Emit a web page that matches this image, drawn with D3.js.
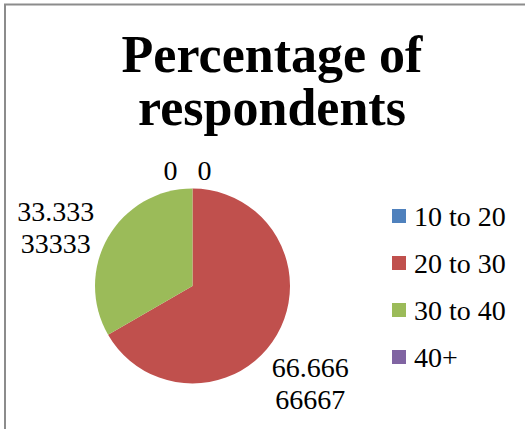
<!DOCTYPE html>
<html>
<head>
<meta charset="utf-8">
<script src="https://cdn.jsdelivr.net/npm/d3@7"></script>
<style>
  html, body { margin: 0; padding: 0; background: #fff; }
  svg { display: block; }
</style>
</head>
<body>
<svg id="chart" width="525" height="429"></svg>
<script>
// ---- data ----
const categories = ["10 to 20", "20 to 30", "30 to 40", "40+"];
const values = [0, 66.66666667, 33.33333333, 0];
const labelTexts = [["0"], ["66.666", "66667"], ["33.333", "33333"], ["0"]];
const titleLines = ["Percentage of", "respondents"];
const colors = ["#4F81BD", "#C0504D", "#9BBB59", "#8064A2"];

const W = 525, H = 429;
const svg = d3.select("#chart");
const serif = "'Liberation Serif', 'Times New Roman', serif";

// border
svg.append("rect")
  .attr("x", 5).attr("y", 4.5)
  .attr("width", W + 10).attr("height", H + 10)
  .attr("fill", "none").attr("stroke", "#8c8c8c").attr("stroke-width", 2);

// title
svg.append("g").selectAll("text").data(titleLines).join("text")
  .attr("x", 272).attr("y", (d, i) => 72 + i * 53)
  .attr("text-anchor", "middle")
  .attr("font-family", serif).attr("font-weight", "bold")
  .attr("font-size", 52)
  .attr("fill", "#000")
  .text(d => d);

// pie
const cx = 192.5, cy = 286, r = 97.5;
const data = categories.map((c, i) => ({ cat: c, value: values[i], i }));
const pie = d3.pie().value(d => d.value).sort(null);
const arcs = pie(data);
const arc = d3.arc().innerRadius(0).outerRadius(r);

const g = svg.append("g").attr("transform", `translate(${cx},${cy})`);
g.selectAll("path").data(arcs.filter(a => a.endAngle > a.startAngle)).join("path")
  .attr("d", arc)
  .attr("fill", d => colors[d.data.i]);

// labels
const fs = 28, lh = 32;
const labelG = g.append("g");
arcs.forEach(a => {
  const mid = (a.startAngle + a.endAngle) / 2;
  const lines = labelTexts[a.data.i];
  let x, y;
  if (a.endAngle === a.startAngle) {
    // zero slice: place above pie, spread sideways
    const side = a.startAngle < Math.PI ? 1 : -1;
    x = Math.sin(mid) * (r + 20) + side * 12 - (side < 0 ? 10 : 0);
    y = -Math.cos(mid) * (r + 18);
  } else {
    const isLower = Math.cos(mid) < 0;
    x = Math.sin(mid) * (isLower ? 136 : 158);
    y = -Math.cos(mid) * (isLower ? 194 : 117);
  }
  const t = labelG.append("text")
    .attr("text-anchor", "middle")
    .attr("font-family", serif).attr("font-size", fs).attr("fill", "#000");
  const top = y - (lines.length - 1) * lh / 2;
  lines.forEach((ln, k) => {
    t.append("tspan").attr("x", x).attr("y", top + k * lh)
      .attr("dy", "0.35em").text(ln);
  });
});

// legend
const legend = svg.append("g").attr("transform", "translate(392,216)");
const rows = legend.selectAll("g").data(categories).join("g")
  .attr("transform", (d, i) => `translate(0,${i * 47})`);
rows.append("rect").attr("x", 0).attr("y", -7).attr("width", 14).attr("height", 14)
  .attr("fill", (d, i) => colors[i]);
rows.append("text").attr("x", 22).attr("y", 0).attr("dy", "0.35em")
  .attr("font-family", serif).attr("font-size", fs).attr("fill", "#000")
  .text(d => d);
</script>
</body>
</html>
